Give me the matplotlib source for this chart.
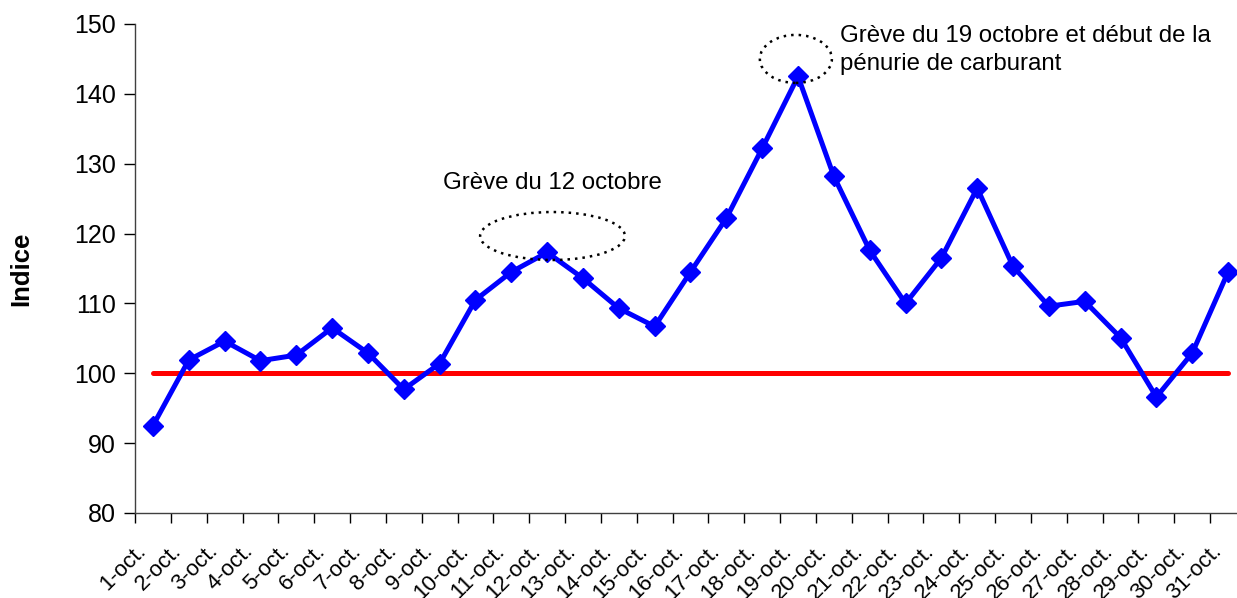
import numpy as np
import matplotlib
matplotlib.use("Agg")
import matplotlib.pyplot as plt
from matplotlib.patches import Ellipse
from matplotlib.transforms import ScaledTranslation

plt.rcParams['font.family'] = ['Liberation Sans', 'DejaVu Sans']

# Data
days = [str(d) + "-oct." for d in range(1, 32)]
indice = [92.5, 101.9, 104.6, 101.8, 102.6, 106.5, 102.9, 97.7, 101.4, 110.5,
          114.5, 117.3, 113.6, 109.3, 106.7, 114.5, 122.2, 132.2, 142.5, 128.2,
          117.6, 110.0, 116.5, 126.5, 115.3, 109.6, 110.3, 105.1, 96.6, 102.9,
          114.5]
reference = [100] * 31
y_ticks = [80, 90, 100, 110, 120, 130, 140, 150]

W, H = 1237, 598
fig = plt.figure(figsize=(W / 100, H / 100), dpi=100)
ax = fig.add_axes([135 / W, 85 / H, 1111 / W, 489 / H])

x = np.arange(len(days))
ax.plot(x, reference, color='#ff0000', lw=3.6, solid_capstyle='round', zorder=2)
ax.plot(x, indice, color='#0000ff', lw=3.6, marker='D', ms=10, zorder=3)

# annotations
ax.add_patch(Ellipse((11.15, 119.65), 4.04, 6.87, fill=False, ls=(0, (1, 2)),
                     lw=1.8, color='black', zorder=4))
ax.add_patch(Ellipse((17.94, 145.0), 2.01, 6.87, fill=False, ls=(0, (1, 2)),
                     lw=1.8, color='black', zorder=4))
ax.text(8.09, 126.4, "Grève du 12 octobre", fontsize=17.3, va='baseline', ha='left')
ax.text(19.17, 147.4, "Grève du 19 octobre et début de la", fontsize=17.3,
        va='baseline', ha='left')
ax.text(19.17, 143.35, "pénurie de carburant", fontsize=17.3,
        va='baseline', ha='left')

ax.set_xlim(-0.5, 30.5)
ax.set_ylim(80, 150)
ax.set_yticks(y_ticks)
ax.tick_params(axis='y', labelsize=18, length=8, width=1, direction='out', pad=6)

ax.set_xticks(x)
ax.set_xticklabels(days, rotation=45, ha='right', va='center',
                   rotation_mode='anchor', fontsize=16)
ax.tick_params(axis='x', which='major', length=0, pad=25)
shift = ScaledTranslation(-10 / 100, 0, fig.dpi_scale_trans)
for lab in ax.get_xticklabels():
    lab.set_transform(lab.get_transform() + shift)
ax.set_xticks(np.arange(-0.5, 30.5, 1), minor=True)
ax.tick_params(axis='x', which='minor', length=7, width=1, direction='out')

for s in ['top', 'right']:
    ax.spines[s].set_visible(False)
for s in ['left', 'bottom']:
    ax.spines[s].set_color('#404040')
    ax.spines[s].set_linewidth(1)

fig.text(21 / W, 1 - 269 / H, "Indice", rotation=90, fontsize=18.5,
         fontweight='bold', ha='center', va='center')

fig.savefig("out.png", dpi=100)
